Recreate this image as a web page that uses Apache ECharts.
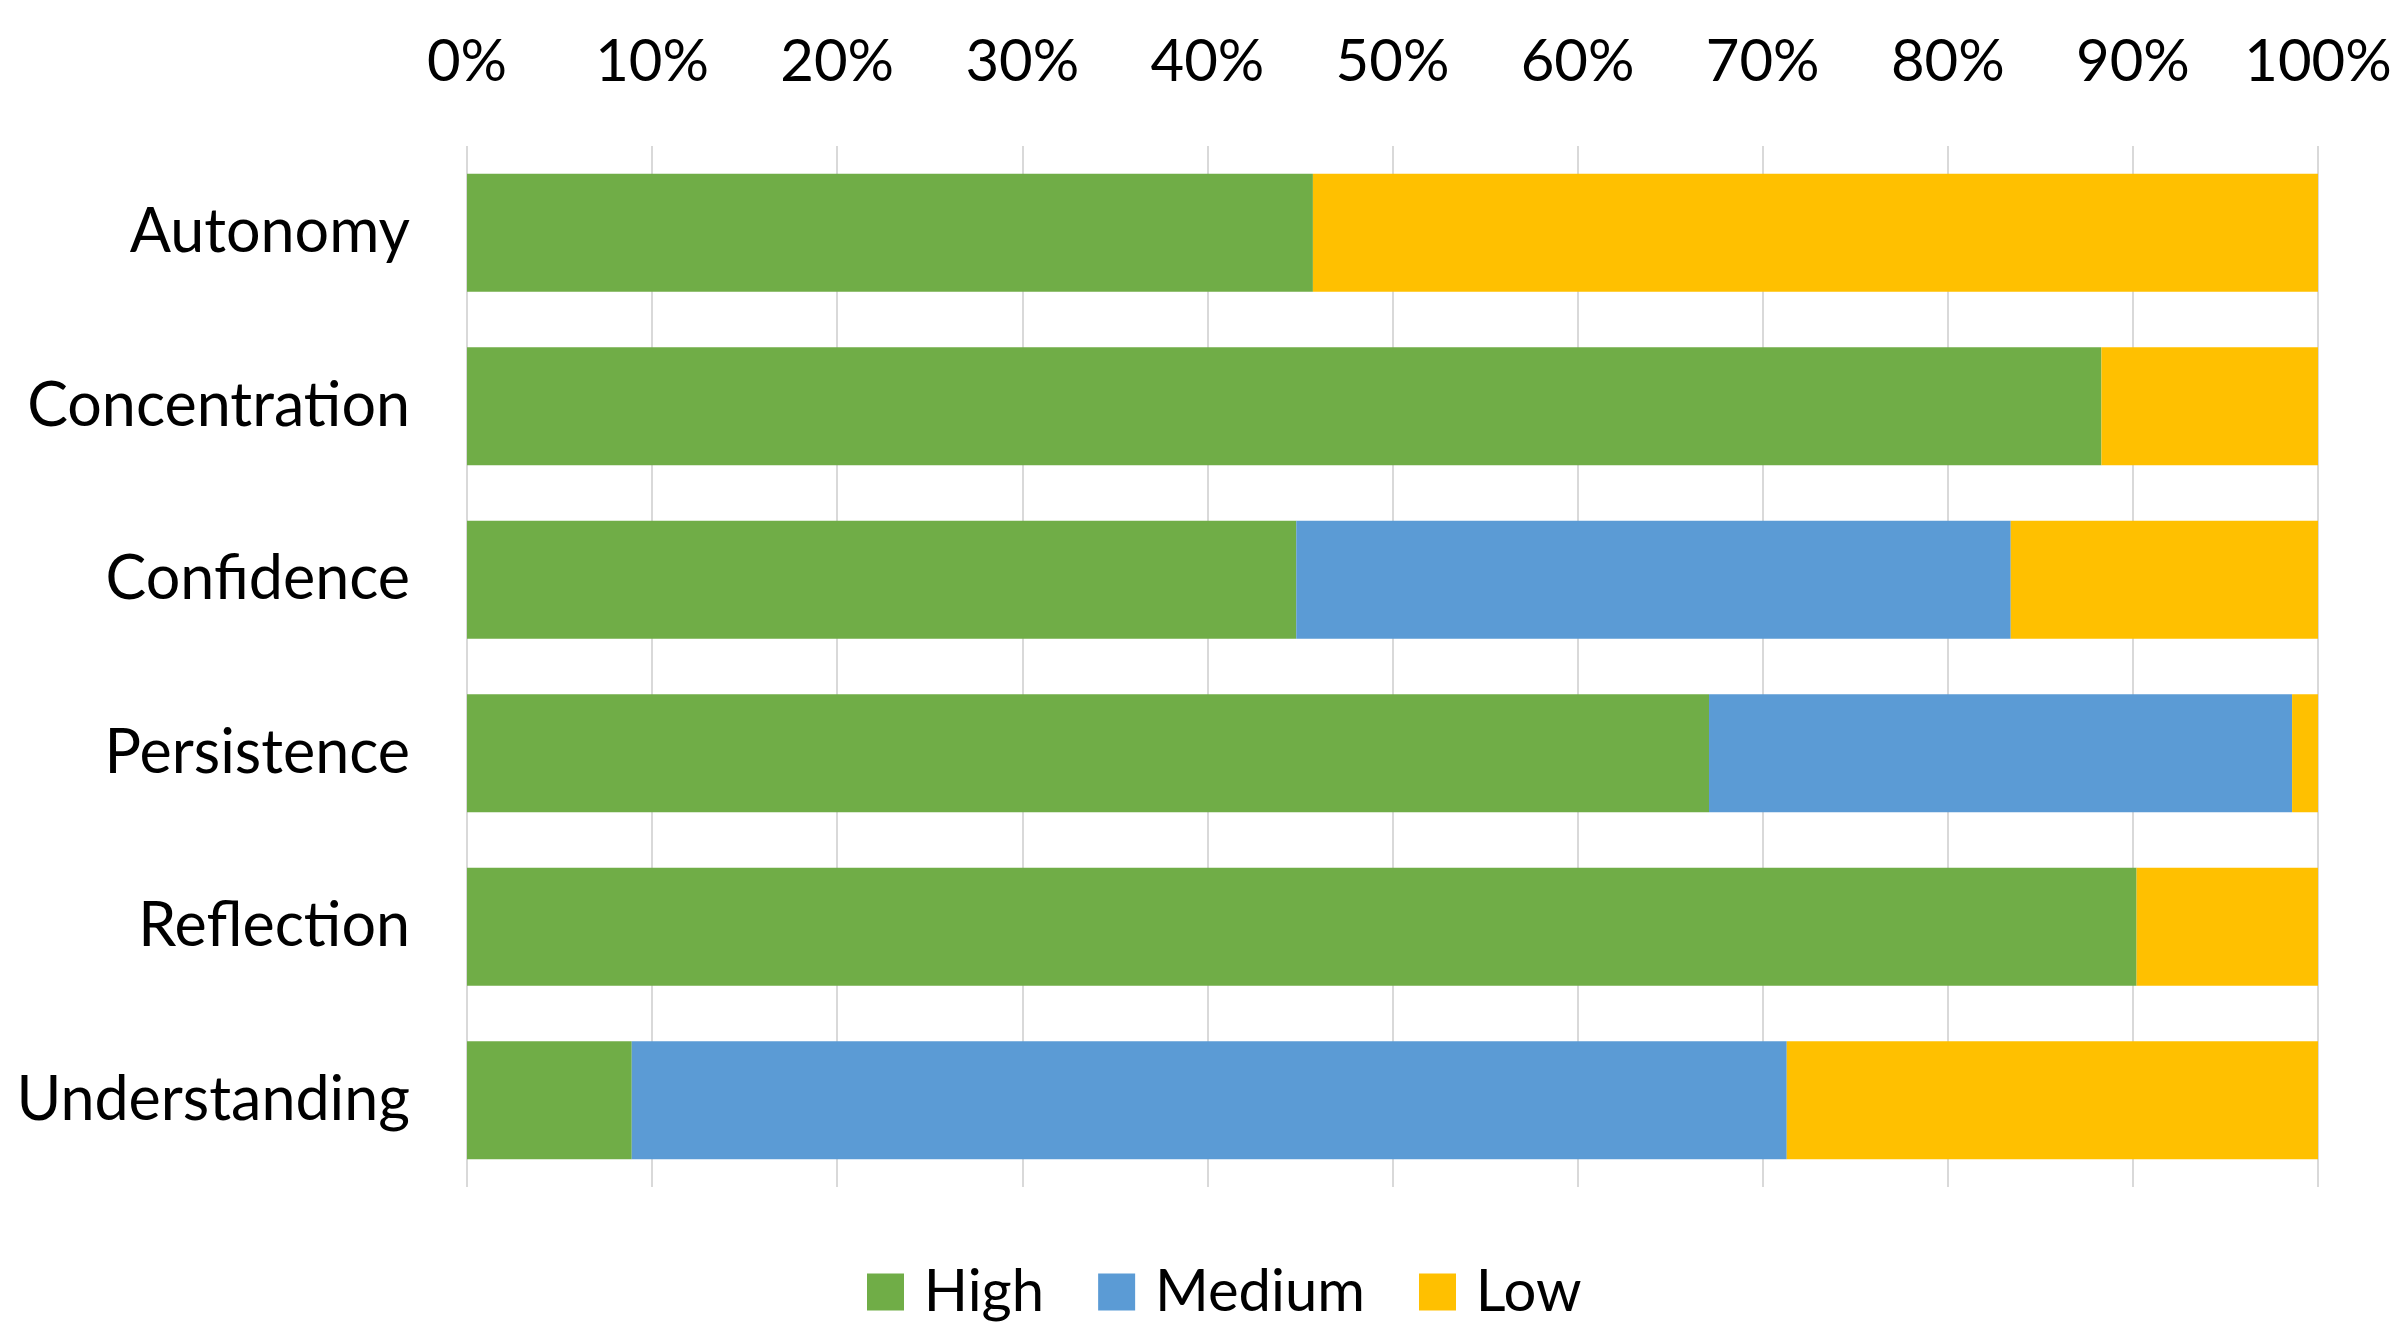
<!DOCTYPE html>
<html>
<head>
<meta charset="utf-8">
<script src="https://cdn.jsdelivr.net/npm/echarts@6/dist/echarts.min.js"></script>
<style>
html,body{margin:0;padding:0;background:#fff;}
#chart{width:2400px;height:1331px;}
</style>
</head>
<body>
<div id="chart"></div>
<script>
const categories = ['Autonomy', 'Concentration', 'Confidence', 'Persistence', 'Reflection', 'Understanding'];
const highValues = [45.7, 88.3, 44.8, 67.1, 90.2, 8.9];
const mediumValues = [0, 0, 38.6, 31.5, 0, 62.4];
const lowValues = [54.3, 11.7, 16.6, 1.4, 9.8, 28.7];
const seriesNames = ['High', 'Medium', 'Low'];
const colors = ['#70AD47', '#5B9BD5', '#FFC000'];

const FONT = 'Lato';
const chart = echarts.init(document.getElementById('chart'));
const dataSets = [highValues, mediumValues, lowValues];

chart.setOption({
  animation: false,
  backgroundColor: '#ffffff',
  grid: { left: 467, right: 82, top: 146, bottom: 144, containLabel: false },
  xAxis: {
    type: 'value', position: 'top', min: 0, max: 100, interval: 10,
    axisLine: { show: false }, axisTick: { show: false },
    axisLabel: { formatter: '{value}%', fontFamily: FONT, fontSize: 58, color: '#000', margin: 55 },
    splitLine: { show: true, lineStyle: { color: '#d9d9d9', width: 2 } }
  },
  yAxis: {
    type: 'category', data: categories, inverse: true,
    axisLine: { show: false }, axisTick: { show: false },
    axisLabel: { fontFamily: FONT, fontSize: 61, color: '#000', margin: 57 }
  },
  legend: {
    data: seriesNames, left: 862, top: 1258, itemWidth: 37, itemHeight: 37, itemGap: 54,
    icon: 'rect',
    formatter: n => '\u00a0' + n,
    textStyle: { fontFamily: FONT, fontSize: 58, color: '#000' }
  },
  series: seriesNames.map((name, i) => ({
    name, type: 'bar', stack: 'total', data: dataSets[i],
    barCategoryGap: '32%',
    itemStyle: { color: colors[i] }
  }))
});
</script>
</body>
</html>
